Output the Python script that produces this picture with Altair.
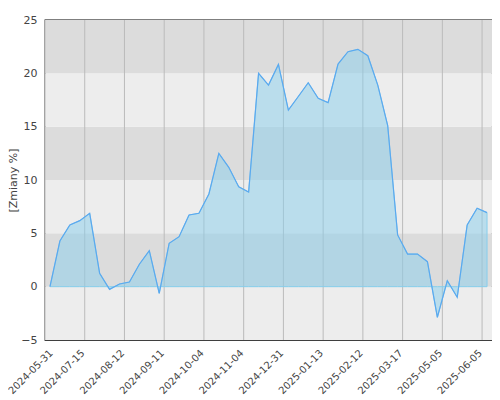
import altair as alt
import pandas as pd

values = [0.0, 4.28, 5.78, 6.19, 6.88, 1.25, -0.25, 0.25, 0.44, 2.1,
          3.38, -0.62, 4.07, 4.69, 6.72, 6.88, 8.69, 12.5, 11.19, 9.37,
          8.87, 20.0, 18.9, 20.84, 16.56, 17.83, 19.12, 17.66, 17.25, 20.87,
          22.03, 22.25, 21.65, 18.9, 15.1, 4.85, 3.06, 3.06, 2.34, -2.87,
          0.56, -0.99, 5.78, 7.35, 6.94]

tick_labels = ["2024-05-31", "2024-07-15", "2024-08-12", "2024-09-11",
               "2024-10-04", "2024-11-04", "2024-12-31", "2025-01-13",
               "2025-02-12", "2025-03-17", "2025-05-05", "2025-06-05"]

band_lo = [-5, 0, 5, 10, 15, 20]
band_hi = [0, 5, 10, 15, 20, 25]
band_col = ["#ededed", "#dcdcdc", "#ededed", "#dcdcdc", "#ededed", "#dcdcdc"]

n = len(values)
df = pd.DataFrame({"i": list(range(n)), "v": values})
tick_pos = [-0.5 + 4 * k for k in range(len(tick_labels))]
ticks_df = pd.DataFrame({"p": tick_pos, "lab": tick_labels})
bands_df = pd.DataFrame({"lo": band_lo, "hi": band_hi, "c": band_col})

label_expr = "{" + ",".join(f"'{p}':'{l}'" for p, l in zip(tick_pos, tick_labels)) + "}[toString(datum.value)]"

W = 447
xscale = alt.Scale(domain=[-0.5, n - 0.5], nice=False, zero=False)
yscale = alt.Scale(domain=[-5, 25], nice=False)

x_axis = alt.Axis(values=tick_pos, labelExpr=label_expr, labelAngle=-45,
                  labelAlign="right", labelBaseline="middle", grid=False, ticks=False,
                  domain=False, title=None, labelFont="DejaVu Sans", labelFontSize=10,
                  labelColor="#444", labelPadding=11,
                  labelOffset={"condition": {"test": "datum.value < 0", "value": 6}, "value": -2},
                  labelOverlap=False, labelBound=False, labelFlush=False)
y_axis = alt.Axis(values=[-5, 0, 5, 10, 15, 20, 25], grid=False, ticks=False, domain=False,
                  title="[Zmiany %]", titleFont="DejaVu Sans", titleFontSize=11,
                  titleFontWeight="normal", titleColor="#444", titlePadding=2,
                  labelFont="DejaVu Sans", labelFontSize=11, labelColor="#444",
                  labelPadding=8)

bands = alt.Chart(bands_df).mark_rect().encode(
    x=alt.value(0), x2=alt.value(W),
    y=alt.Y("lo:Q", scale=yscale, axis=y_axis),
    y2="hi:Q",
    color=alt.Color("c:N", scale=None),
)

grid = alt.Chart(ticks_df).mark_rule(color="#bbbbbb", strokeWidth=1).encode(
    x=alt.X("p:Q", scale=xscale, axis=x_axis),
)

area = alt.Chart(df).mark_area(
    fill="#87ceeb", fillOpacity=0.5, stroke="#87ceeb", strokeWidth=1, interpolate="linear"
).encode(
    x=alt.X("i:Q", scale=xscale, axis=x_axis),
    y=alt.Y("v:Q", scale=yscale, axis=y_axis),
    y2=alt.datum(0),
)

line = alt.Chart(df).mark_line(color="#5ba9ef", strokeWidth=1.2).encode(
    x=alt.X("i:Q", scale=xscale, axis=x_axis),
    y=alt.Y("v:Q", scale=yscale, axis=y_axis),
)

chart = alt.layer(bands, grid, area, line).properties(
    width=W, height=320,
    autosize=alt.AutoSizeParams(type="none"),
    padding={"left": 37, "top": 12, "right": 0, "bottom": 58},
).configure_view(stroke="black", strokeWidth=1.3)

chart.save("out.html", embed_options={"renderer": "svg", "actions": False})
